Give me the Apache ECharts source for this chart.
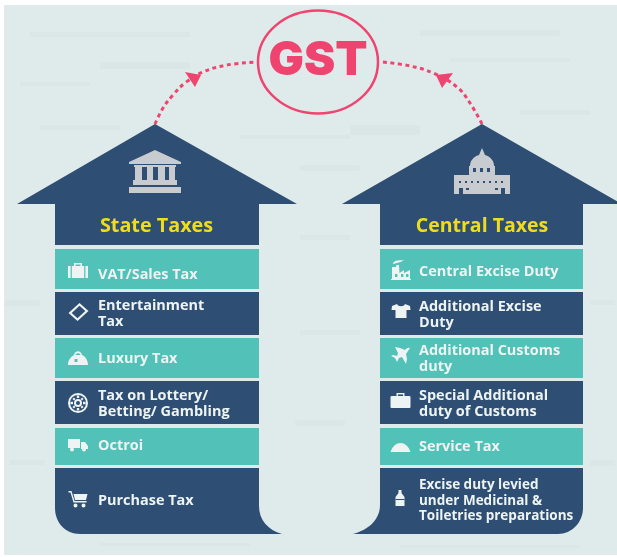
<!DOCTYPE html>
<html>
<head>
<meta charset="utf-8">
<style>html,body{margin:0;padding:0;background:#fff}#main{width:617px;height:557px}</style>
<script src="https://cdn.jsdelivr.net/npm/echarts@6/dist/echarts.min.js"></script>
</head>
<body>
<div id="main"></div>
<script>
// labels
var title = 'GST';
var groupNames = ['State Taxes', 'Central Taxes'];
var stateTaxes = ['VAT/Sales Tax', 'Entertainment\nTax', 'Luxury Tax', 'Tax on Lottery/\nBetting/ Gambling', 'Octroi', 'Purchase Tax'];
var centralTaxes = ['Central Excise Duty', 'Additional Excise\nDuty', 'Additional Customs\nduty', 'Special Additional\nduty of Customs', 'Service Tax', 'Excise duty levied\nunder Medicinal &\nToiletries preparations'];

// row bands on the hidden pixel axes
var rowTop = [249, 292, 338, 381, 428, 468];
var rowBottom = [289, 335, 378, 424, 465, 534];
var stateTextY = [275, 314, 359, 404, 446, 501];
var centralTextY = [272, 315, 359, 404, 447, 501];

// dotted arcs
var leftArc = [[155, 124], [163, 108], [173, 95], [185, 83], [203, 72], [227, 65], [257, 62]];
var rightArc = [[383, 62], [410, 66], [433, 73], [457, 87], [470, 103], [482, 124]];

var NAVY = '#2e4f73', TEAL = '#52c1b8', PINK = '#ef4470', YELLOW = '#f0dc1e', GREY = '#c8ccd0', BG = '#dfeaea', WHITE = '#eef4f3';
var FONT = '"Open Sans"';

var streaks = [
  [30, 32, 160, 5], [100, 62, 90, 7], [20, 82, 70, 4], [40, 125, 80, 5], [420, 30, 140, 6], [450, 58, 120, 4],
  [520, 110, 70, 5], [240, 135, 110, 4], [350, 125, 70, 10], [300, 165, 60, 6], [300, 235, 50, 5], [5, 300, 35, 6],
  [300, 330, 60, 5], [295, 420, 50, 6], [590, 300, 25, 5], [590, 460, 25, 6], [10, 460, 35, 5], [100, 543, 150, 3], [400, 545, 180, 3]
];

// icons: local coordinates, [path, colour key]
var icons = {
  briefcase: [['M-10 -5H10V7H-10Z M-4 -5V-8H4V-5H2.4V-6.5H-2.4V-5Z', 'w'], ['M-7.4 -5H-6.2V7H-7.4Z M6.2 -5H7.4V7H6.2Z', 'r']],
  ticket: [['M1 -9L10 -1L-1 9L-10 1Z', 'w'], ['M1 -6.2L6.8 -1L-1 6.2L-6.8 1Z', 'r']],
  bag: [['M-10 7C-10 1 -6 -2 -4 -3C-3 -8 3 -8 4 -3C7 -2 10 2 10 7Z', 'w'], ['M-2.5 -3C-2 -5.5 2 -5.5 2.5 -3Z M-3.5 1H-0.5V4H-3.5Z', 'r']],
  wheel: [['M0 -10A10 10 0 1 1 0 10A10 10 0 1 1 0 -10Z', 'w'], ['M0 -8A8 8 0 1 1 0 8A8 8 0 1 1 0 -8Z', 'r'], ['M-1.2 -7.6H1.2V-5H-1.2Z M-1.2 5H1.2V7.6H-1.2Z M-7.6 -1.2H-5V1.2H-7.6Z M5 -1.2H7.6V1.2H5Z M-5.6 -4L-4 -5.6L-2.6 -4L-4 -2.6Z M5.6 -4L4 -5.6L2.6 -4L4 -2.6Z M-5.6 4L-4 5.6L-2.6 4L-4 2.6Z M5.6 4L4 5.6L2.6 4L4 2.6Z', 'w'], ['M0 -4A4 4 0 1 1 0 4A4 4 0 1 1 0 -4Z', 'w'], ['M0 -2A2 2 0 1 1 0 2A2 2 0 1 1 0 -2Z', 'r']],
  truck: [['M-10 -6H2V3H-10Z M3 -3H7L10 1V4H3Z', 'w'], ['M-6 2.5A2 2 0 1 1 -6 6.5A2 2 0 1 1 -6 2.5Z M6 2.5A2 2 0 1 1 6 6.5A2 2 0 1 1 6 2.5Z', 'w']],
  cart: [['M-10 -8H-7L-4 2H8V3.5H-5L-8 -6.5H-10Z', 'w'], ['M-5 -5H9L7.5 1H-3.5Z', 'w'], ['M-3 4.5A2 2 0 1 1 -3 8.5A2 2 0 1 1 -3 4.5Z M5 4.5A2 2 0 1 1 5 8.5A2 2 0 1 1 5 4.5Z', 'w']],
  factory: [['M-9 10V-3H-5L-4.5 -5H-2L-1.5 3L3 0V3L9 0V10Z', 'w'], ['M-10 9H10V10H-10Z M-8 -7C-6 -10 -2 -10 3 -9.5C0 -8 -4 -7 -8 -6Z', 'w'], ['M-6 4H-3.6V7H-6Z M0 4H2.4V7H0Z M5 4H7.4V7H5Z', 'r']],
  shirt: [['M-4 -7L-9 -5L-9.5 -1L-5.5 -1V7H5.5V-1L9.5 -1L9 -5L4 -7C3 -4 -3 -4 -4 -7Z', 'w']],
  plane: [['M9 -8C7 -9 5 -7 4 -6L-1 -8L-6 -9L-3 -3L-4 0L-8 -1L-10 0L-6 2L-4 6L-3 4L-2 2L1 1L5 8L6 3L5 -2Z', 'w']],
  case2: [['M-10 -4C-10 -5 -9 -5 -8 -5H-4V-8H4V-5H8C9 -5 10 -5 10 -4V6C10 7 9 7 8 7H-8C-9 7 -10 7 -10 6Z', 'w'], ['M-2.6 -6.6H2.6V-5H-2.6Z', 'r']],
  cloche: [['M-10 5C-8 -1 -4 -4 0 -4C4 -4 8 -1 10 5Z', 'w']],
  bottle: [['M-1.5 -8H1.5V-5L4.5 -1V8H-4.5V-1L-1.5 -5Z', 'w'], ['M-4.5 1H4.5V2H-4.5Z', 'r']]
};
var stateIcons = [['briefcase', 78, 271], ['ticket', 78.5, 312], ['bag', 78, 358], ['wheel', 78, 403], ['truck', 78, 445], ['cart', 78.5, 499]];
var centralIcons = [['factory', 401, 270], ['shirt', 401, 311], ['plane', 401, 356], ['case2', 400.5, 401], ['cloche', 400.5, 447], ['bottle', 400, 498]];

var bankPath = 'M155 150L181 162V164H129V162Z M134 165H176V167H134Z M135 167H142V180H135Z M147 167H153V180H147Z M158 167H165V180H158Z M169 167H175V180H169Z M133 180H177V185H133Z M129 187H181V193H129Z';
var capitolPath = 'M482 148L485 155C491 157 494 161 494 166H495V175H510V194H454V175H469V166H470C470 161 473 157 479 155Z';
var capitolHoles = 'M473 168H476V172H473Z M480 168H483V172H480Z M487 168H490V172H487Z M459 181H461V183H459Z M465 181H467V183H465Z M471 181H473V183H471Z M477 181H479V183H477Z M483 181H485V183H483Z M489 181H491V183H489Z M495 181H497V183H495Z M501 181H503V183H501Z M459 188H463V194H459Z M501 188H505V194H501Z M466 188H469V190H466Z M495 188H498V190H495Z';

var chart = echarts.init(document.getElementById('main'), null, {renderer: 'canvas'});

function pathOf(api, cmds) {
  // cmds: [letter, x, y, ...] pairs go through the axes
  return cmds.map(function (c) {
    var out = c[0];
    for (var i = 1; i < c.length; i += 2) {
      var p = api.coord([c[i], c[i + 1]]);
      out += (i > 1 ? ' ' : '') + p[0] + ' ' + p[1];
    }
    return out;
  }).join(' ');
}

function iconEls(list, api) {
  var els = [];
  list.forEach(function (ic, i) {
    var p = api.coord([ic[1], ic[2]]);
    var rowFill = i % 2 === 0 ? TEAL : NAVY;
    icons[ic[0]].forEach(function (part) {
      els.push({type: 'path', x: p[0], y: p[1], shape: {pathData: part[0]}, style: {fill: part[1] === 'w' ? WHITE : rowFill}});
    });
  });
  return els;
}

var option = {
  animation: false,
  backgroundColor: '#fff',
  grid: {left: 0, right: 0, top: 0, bottom: 0},
  xAxis: {type: 'value', min: 0, max: 617, show: false},
  yAxis: {type: 'value', min: 0, max: 557, inverse: true, show: false},
  series: [
    {
      // backdrop
      type: 'custom', coordinateSystem: 'cartesian2d', z: 1, silent: true, data: [[0, 0]], clip: false,
      renderItem: function (params, api) {
        var a = api.coord([4, 5]), b = api.coord([617, 555]);
        var kids = [{type: 'rect', shape: {x: a[0], y: a[1], width: b[0] - a[0], height: b[1] - a[1]}, style: {fill: BG}}];
        streaks.forEach(function (s) {
          var p = api.coord([s[0], s[1]]);
          kids.push({type: 'rect', shape: {x: p[0], y: p[1], width: s[2], height: s[3]}, style: {fill: 'rgba(165,185,185,0.05)', shadowBlur: 9, shadowColor: 'rgba(165,185,185,0.12)'}});
        });
        return {type: 'group', children: kids};
      }
    },
    {
      type: 'line', z: 3, data: leftArc, smooth: 0.4, symbol: 'none', silent: true,
      lineStyle: {color: PINK, width: 3, type: [4, 3.5]}
    },
    {
      type: 'line', z: 3, data: rightArc, smooth: 0.4, symbol: 'none', silent: true,
      lineStyle: {color: PINK, width: 3, type: [4, 3.5]}
    },
    {
      // houses, rows, text
      type: 'custom', coordinateSystem: 'cartesian2d', z: 4, silent: true, data: [[0, 0]], clip: false,
      renderItem: function (params, api) {
        var kids = [];
        function house(apex, l, sl, sr, r, name, textX, size) {
          kids.push({type: 'polygon', shape: {points: [[apex, 124], [r, 204], [sr, 204], [sr, 245], [sl, 245], [sl, 204], [l, 204]].map(function (q) { return api.coord(q); })}, style: {fill: NAVY}});
          var c = api.coord([textX, 225]);
          kids.push({type: 'text', x: c[0], y: c[1] + 1, style: {text: name, fill: YELLOW, font: 'bold ' + size + 'px ' + FONT, align: 'center', verticalAlign: 'middle'}});
        }
        house(155, 17, 55, 259, 297, groupNames[0], 156.5, 19.8);
        house(482, 342, 380, 583, 622, groupNames[1], 482, 19.5);

        function rows(l, r) {
          for (var i = 0; i < 5; i++) {
            var a = api.coord([l, rowTop[i]]), b = api.coord([r, rowBottom[i]]);
            kids.push({type: 'rect', shape: {x: a[0], y: a[1], width: b[0] - a[0], height: b[1] - a[1]}, style: {fill: i % 2 === 0 ? TEAL : NAVY}});
          }
        }
        rows(55, 259);
        rows(380, 583);

        kids.push({type: 'path', shape: {pathData: pathOf(api, [['M', 55, 468], ['L', 259, 468], ['L', 259, 506], ['C', 259, 520, 268, 530, 282, 534], ['L', 80, 534], ['C', 65, 534, 55, 522, 55, 508], ['Z']])}, style: {fill: NAVY}});
        kids.push({type: 'path', shape: {pathData: pathOf(api, [['M', 380, 468], ['L', 583, 468], ['L', 583, 508], ['C', 583, 522, 572, 534, 558, 534], ['L', 353, 534], ['C', 368, 530, 380, 520, 380, 505], ['Z']])}, style: {fill: NAVY}});

        function labels(names, x, ys) {
          names.forEach(function (name, i) {
            var p = api.coord([x, ys[i]]);
            var threeLines = name.split('\n').length === 3;
            kids.push({
              type: 'text', x: p[0], y: p[1], scaleX: threeLines ? 1 : 1.07,
              style: {text: name, fill: WHITE, font: 'bold 13.5px ' + FONT, lineHeight: threeLines ? 15.5 : 16.5, align: 'left', verticalAlign: 'middle'}
            });
          });
        }
        labels(stateTaxes, 98, stateTextY);
        labels(centralTaxes, 419, centralTextY);

        iconEls(stateIcons, api).forEach(function (e) { kids.push(e); });
        iconEls(centralIcons, api).forEach(function (e) { kids.push(e); });

        kids.push({type: 'path', shape: {pathData: bankPath}, style: {fill: GREY}});
        kids.push({type: 'path', shape: {pathData: capitolPath}, style: {fill: GREY}});
        kids.push({type: 'path', shape: {pathData: capitolHoles}, style: {fill: NAVY}});

        // GST ring and arrow heads
        var c = api.coord([318, 62]);
        kids.push({type: 'ellipse', shape: {cx: c[0], cy: c[1], rx: 60, ry: 51.5}, style: {fill: 'none', stroke: PINK, lineWidth: 2.5}});
        kids.push({type: 'text', x: c[0], y: c[1] - 1, style: {text: title, fill: PINK, font: '900 47px Inter', align: 'center', verticalAlign: 'middle'}});
        [[[185, 72], [201, 75], [195, 87]], [[453, 73], [436, 75], [442, 88]]].forEach(function (t) {
          kids.push({type: 'polygon', shape: {points: t.map(function (q) { return api.coord(q); })}, style: {fill: PINK}});
        });
        return {type: 'group', children: kids};
      }
    }
  ]
};
chart.setOption(option);
</script>
</body>
</html>
